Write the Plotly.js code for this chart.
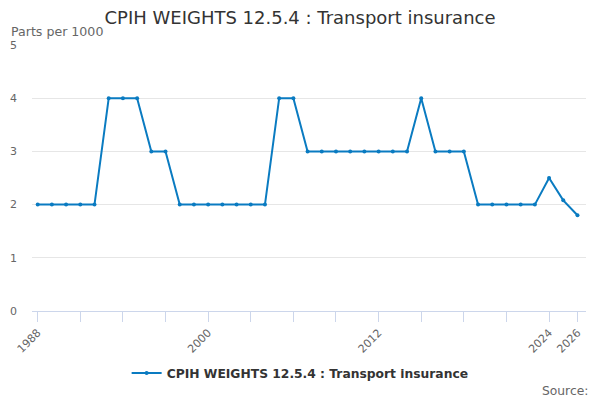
<!DOCTYPE html>
<html>
<head>
<meta charset="utf-8">
<script src="https://cdn.plot.ly/plotly-3.0.1.min.js"></script>
<style>html,body{margin:0;padding:0;background:#fff;}#chart{width:600px;height:400px;}</style>
</head>
<body>
<div id="chart"></div>
<script>
const years = [1988,1989,1990,1991,1992,1993,1994,1995,1996,1997,1998,1999,2000,2001,2002,2003,2004,2005,2006,2007,2008,2009,2010,2011,2012,2013,2014,2015,2016,2017,2018,2019,2020,2021,2022,2023,2024,2025,2026];
const weights = [2,2,2,2,2,4,4,4,3,3,2,2,2,2,2,2,2,4,4,3,3,3,3,3,3,3,3,4,3,3,3,2,2,2,2,2,2.5,2.08,1.8];
const xTickVals = [1988,2000,2012,2024,2026];
const xTickText = ['1988','2000','2012','2024','2026'];
const seriesName = 'CPIH WEIGHTS 12.5.4 : Transport insurance';

const font = 'DejaVu Sans, sans-serif';
const trace = {
  x: years, y: weights, type: 'scatter', mode: 'lines+markers',
  name: seriesName,
  line: {color: '#0a7bc1', width: 2},
  marker: {color: '#0a7bc1', size: 4}
};
const layout = {
  width: 600, height: 400,
  margin: {l: 32, r: 14, t: 45, b: 89},
  paper_bgcolor: '#fff', plot_bgcolor: '#fff',
  font: {family: font, color: '#666', size: 11},
  title: {text: seriesName, x: 0.5, xref: 'container', xanchor: 'center', y: 0.955, yanchor: 'middle', font: {family: font, size: 18, color: '#333'}},
  xaxis: {
    range: [1987.6, 2026.6], tickmode: 'array', tickvals: xTickVals, ticktext: xTickText,
    tickangle: -45, ticks: 'outside', ticklen: 10, tickcolor: '#ccd6eb', tickwidth: 1,
    minor: {tick0: 1988, dtick: 3, ticks: 'outside', ticklen: 10, tickcolor: '#ccd6eb', showgrid: false},
    showgrid: false, showline: true, linecolor: '#ccd6eb', linewidth: 1, zeroline: false,
    tickfont: {family: font, size: 11, color: '#666'}
  },
  yaxis: {
    range: [0, 5], dtick: 1, tick0: 0, showgrid: true, gridcolor: '#e6e6e6', gridwidth: 1,
    zeroline: false, showline: false, ticks: '', ticklabelstandoff: 14,
    tickfont: {family: font, size: 11, color: '#666'}
  },
  showlegend: true,
  legend: {orientation: 'h', x: 0.484, xanchor: 'center', y: -0.233, yanchor: 'middle',
    font: {family: font, size: 12.3, color: '#333', weight: 'bold'}},
  annotations: [
    {text: 'Parts per 1000', xref: 'paper', yref: 'paper', x: -0.042, xanchor: 'left', y: 1.05, yanchor: 'middle', showarrow: false, font: {family: font, size: 12.6, color: '#666'}},
    {text: 'Source:', xref: 'paper', yref: 'paper', x: 1.008, xanchor: 'right', y: -0.3, yanchor: 'middle', showarrow: false, font: {family: font, size: 12.3, color: '#666'}}
  ]
};
Plotly.newPlot('chart', [trace], layout, {displayModeBar: false, staticPlot: true});
</script>
</body>
</html>
